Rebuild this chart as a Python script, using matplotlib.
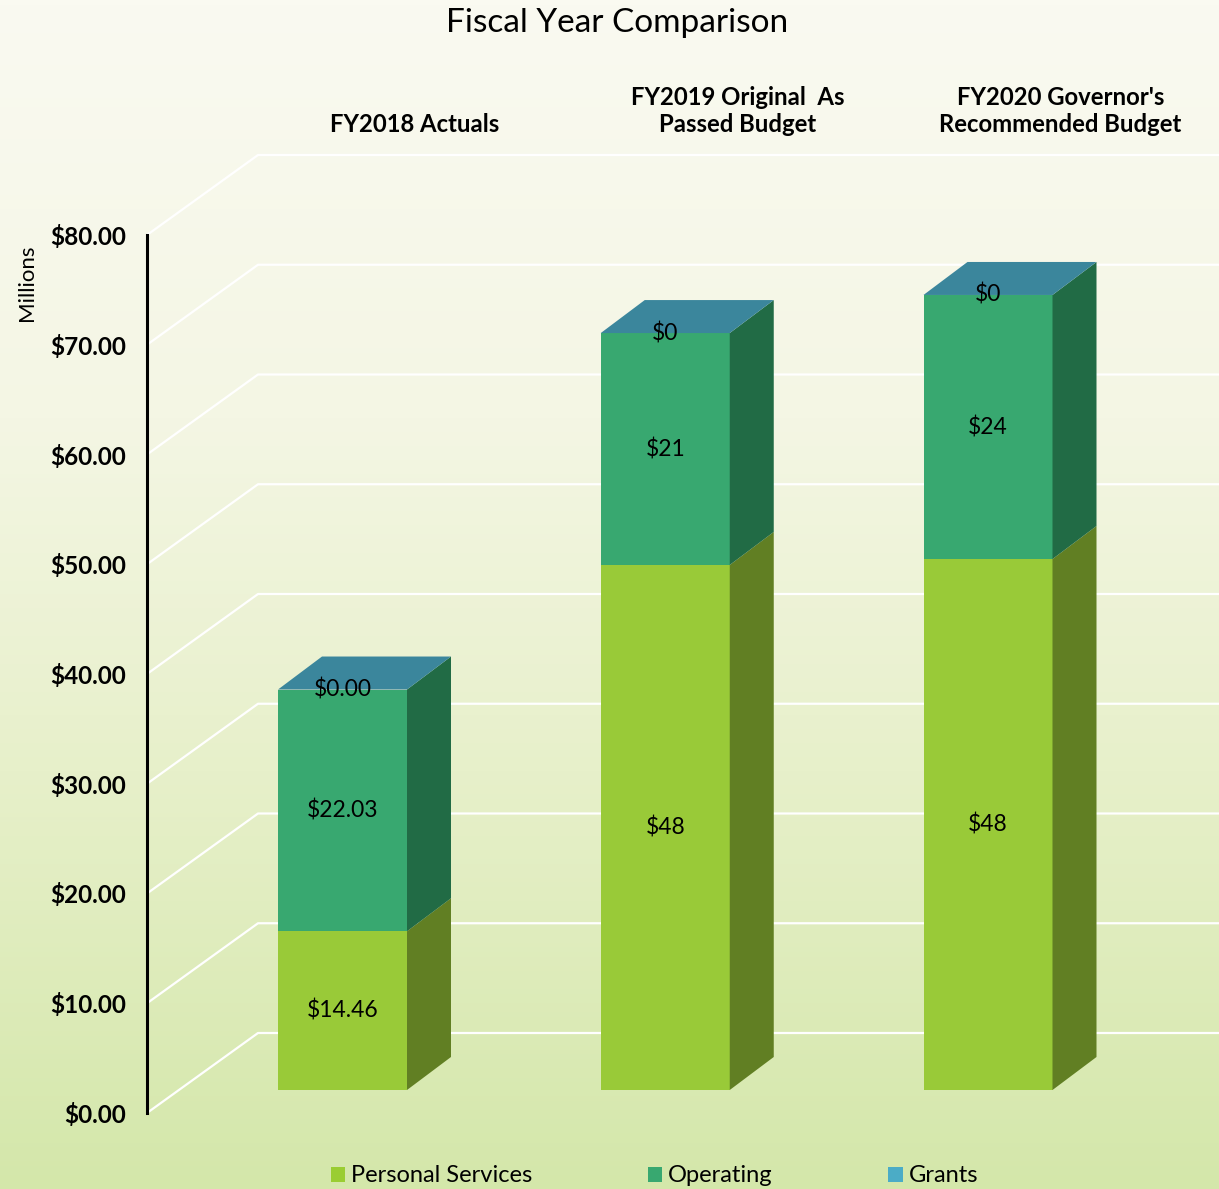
import matplotlib
matplotlib.use("Agg")
import matplotlib.pyplot as plt
import numpy as np
from matplotlib.patches import Polygon, Patch
from matplotlib.colors import LinearSegmentedColormap

# ---------------- data ----------------
categories = ["FY2018 Actuals",
              "FY2019 Original  As\nPassed Budget",
              "FY2020 Governor's\nRecommended Budget"]
series_names = ["Personal Services", "Operating", "Grants"]
personal_services = [14.46, 47.84, 48.38]
operating = [22.03, 21.13, 24.06]
grants = [0.00, 0.00, 0.00]
label_formats = ["${:.2f}", "${:.0f}", "${:.0f}"]
y_ticks = [0, 10, 20, 30, 40, 50, 60, 70, 80]
y_tick_labels = ["${:.2f}".format(v) for v in y_ticks]

# ---------------- style ----------------
FONT = "Lato"
front_colors = ["#99CA38", "#38A870", "#3B869C"]
side_colors = ["#617F23", "#216B45", "#2A6273"]
legend_colors = ["#9ACD32", "#38A870", "#4BACC6"]

W, H = 1219, 1189
fig = plt.figure(figsize=(W / 100, H / 100), dpi=100)

# background gradient
bg = fig.add_axes([0, 0, 1, 1], zorder=-10)
cmap = LinearSegmentedColormap.from_list(
    "bg", [(0, "#FAFAF1"), (0.35, "#F4F6E4"), (0.65, "#E7F0CA"), (1, "#D4E7AA")])
grad = np.linspace(0, 1, 256).reshape(-1, 1)
bg.imshow(grad, aspect="auto", cmap=cmap, extent=[0, 1, 0, 1], origin="upper")
bg.axis("off")

# main axes (front plane)
px_per_cat = 322.75
px_per_val = 10.975
x_first = 342.5
left_px, bottom_px, top_px = 147, 1113, 150
ax = fig.add_axes([left_px / W, (H - bottom_px) / H, (W - left_px) / W,
                   (bottom_px - top_px) / H])
ax.patch.set_alpha(0)
xl = (left_px - x_first) / px_per_cat
xr = (W - x_first) / px_per_cat
ax.set_xlim(xl, xr)
ax.set_ylim(0, (bottom_px - top_px) / px_per_val)

# depth geometry (data units)
WALL_DX, WALL_DY = 111 / px_per_cat, 80 / px_per_val
BAR_BASE = 23 / px_per_val
BAR_DX, BAR_DY = 44 / px_per_cat, 33 / px_per_val
BAR_W = 129 / px_per_cat

# gridlines on side wall + back wall
for v in y_ticks:
    ax.plot([xl, xl + WALL_DX, xr], [v, v + WALL_DY, v + WALL_DY],
            color="white", lw=1.6, zorder=1, solid_capstyle="butt")

x = np.arange(len(categories))
stack = [personal_services, operating, grants]
cum = np.zeros(len(categories))
for s, vals in enumerate(stack):
    vals = np.array(vals)
    bottoms = BAR_BASE + cum
    ax.bar(x, vals, width=BAR_W, bottom=bottoms, color=front_colors[s],
           zorder=3, linewidth=0)
    for i in range(len(categories)):
        xr_edge = x[i] + BAR_W / 2
        b, t = bottoms[i], bottoms[i] + vals[i]
        side = Polygon([(xr_edge, b), (xr_edge + BAR_DX, b + BAR_DY),
                        (xr_edge + BAR_DX, t + BAR_DY), (xr_edge, t)],
                       closed=True, facecolor=side_colors[s], lw=0, zorder=3)
        ax.add_patch(side)
    cum = cum + vals

# top faces (top segment = grants colour)
for i in range(len(categories)):
    t = BAR_BASE + cum[i]
    x0, x1 = x[i] - BAR_W / 2, x[i] + BAR_W / 2
    top = Polygon([(x0, t), (x1, t), (x1 + BAR_DX, t + BAR_DY),
                   (x0 + BAR_DX, t + BAR_DY)], closed=True,
                  facecolor=front_colors[2], lw=0, zorder=3)
    ax.add_patch(top)

# value labels
cum = np.zeros(len(categories))
for s, vals in enumerate(stack):
    for i, v in enumerate(vals):
        ax.text(x[i], BAR_BASE + cum[i] + v / 2, label_formats[i].format(v),
                ha="center", va="center", fontsize=16.5, family=FONT, zorder=5)
    cum = cum + np.array(vals)

# y axis
ax.set_yticks(y_ticks)
ax.set_yticklabels(y_tick_labels, fontsize=17.5, fontweight="bold", family=FONT)
ax.tick_params(axis="y", length=0, pad=15)
for sp in ["top", "right", "bottom"]:
    ax.spines[sp].set_visible(False)
ax.spines["left"].set_bounds(0, 80)
ax.spines["left"].set_linewidth(2.2)
ax.spines["left"].set_color("black")

# category labels at top
ax.xaxis.tick_top()
ax.set_xticks(x + 0.225)
ax.set_xticklabels(categories, fontsize=17.2, fontweight="bold", family=FONT,
                   linespacing=1.2)
ax.tick_params(axis="x", length=0, pad=10)

# y-label
fig.text(27 / W, 1 - 283 / H, "Millions", rotation=90, ha="center",
         va="center", fontsize=16, family=FONT)

# title
fig.text(617 / W, 1 - 23 / H, "Fiscal Year Comparison", ha="center",
         va="center", fontsize=24, family=FONT)

# legend
handles = [Patch(facecolor=c, edgecolor="none") for c in legend_colors]
fig.legend(handles, series_names, loc="center", bbox_to_anchor=(654.5 / W, 13 / H),
           ncol=3, frameon=False, prop={"family": FONT, "size": 17},
           handlelength=0.6, handleheight=0.6, handletextpad=0.25,
           columnspacing=4.9, borderaxespad=0, borderpad=0)

fig.savefig("out.png", dpi=100)
